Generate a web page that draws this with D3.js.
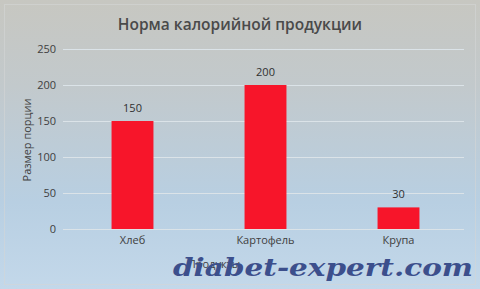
<!DOCTYPE html>
<html>
<head>
<meta charset="utf-8">
<script src="https://cdn.jsdelivr.net/npm/d3@7"></script>
<style>
  body { margin: 0; }
  svg { display: block; font-family: "Open Sans", "DejaVu Sans", sans-serif; }
</style>
</head>
<body>
<svg id="chart"></svg>
<script>
const categories = ["Хлеб", "Картофель", "Крупа"];
const values = [150, 200, 30];
const yTicks = [0, 50, 100, 150, 200, 250];
const title = "Норма калорийной продукции";
const xTitle = "Продукты";
const yTitle = "Размер порции";
const watermark = "diabet-expert.com";

const width = 480, height = 289;
const margin = { top: 49, right: 15, bottom: 60, left: 66 };

const svg = d3.select("#chart").attr("width", width).attr("height", height);

// background gradient, grey on top to light blue below
const defs = svg.append("defs");
const grad = defs.append("linearGradient")
  .attr("id", "bg").attr("x1", 0).attr("y1", 0).attr("x2", 0).attr("y2", 1);
grad.append("stop").attr("offset", "0%").attr("stop-color", "#c7c7c1");
grad.append("stop").attr("offset", "30%").attr("stop-color", "#c2c9cc");
grad.append("stop").attr("offset", "70%").attr("stop-color", "#b8cfe2");
grad.append("stop").attr("offset", "100%").attr("stop-color", "#c3d8ea");

svg.append("rect").attr("width", width).attr("height", height).attr("fill", "url(#bg)");
svg.append("rect").attr("x", 4.5).attr("y", 4.5)
  .attr("width", width - 9).attr("height", height - 9)
  .attr("fill", "none").attr("stroke", "#d3d6d6").attr("stroke-opacity", 0.6);

const x = d3.scaleBand()
  .domain(categories)
  .range([margin.left, width - margin.right])
  .paddingInner(0.685)
  .paddingOuter(0.3425);

const y = d3.scaleLinear()
  .domain([0, 250])
  .range([height - margin.bottom, margin.top]);

// gridlines
svg.append("g")
  .selectAll("line")
  .data(yTicks)
  .join("line")
  .attr("x1", 63).attr("x2", 464)
  .attr("y1", d => Math.round(y(d)) + 0.5)
  .attr("y2", d => Math.round(y(d)) + 0.5)
  .attr("stroke", "#dbe3e8")
  .attr("stroke-width", 1);

// y axis labels
const yAxis = svg.append("g")
  .attr("transform", "translate(56,0)")
  .call(d3.axisLeft(y).tickValues(yTicks).tickSize(0).tickPadding(0));
yAxis.select(".domain").remove();
yAxis.selectAll("text")
  .attr("font-size", 11).attr("fill", "#404040")
  .attr("font-family", "'Open Sans', sans-serif");

// x axis labels
const xAxis = svg.append("g")
  .attr("transform", "translate(0," + (y(0) + 7) + ")")
  .call(d3.axisBottom(x).tickSize(0).tickPadding(0));
xAxis.select(".domain").remove();
xAxis.selectAll("text")
  .attr("font-size", 11).attr("fill", "#404040")
  .attr("font-family", "'Open Sans', sans-serif");

// bars
svg.append("g")
  .selectAll("rect")
  .data(values)
  .join("rect")
  .attr("x", (d, i) => x(categories[i]))
  .attr("y", d => y(d))
  .attr("width", x.bandwidth())
  .attr("height", d => y(0) - y(d))
  .attr("fill", "#f7152a");

// value labels
svg.append("g")
  .selectAll("text")
  .data(values)
  .join("text")
  .attr("x", (d, i) => x(categories[i]) + x.bandwidth() / 2)
  .attr("y", d => y(d) - 9)
  .attr("text-anchor", "middle")
  .attr("font-size", 11)
  .attr("fill", "#303030")
  .text(d => d);

// title
svg.append("text")
  .attr("x", 240).attr("y", 30)
  .attr("text-anchor", "middle")
  .attr("font-size", 15.5)
  .attr("font-weight", 600)
  .attr("fill", "#4a4a4a")
  .text(title);

// axis titles
svg.append("text")
  .attr("transform", "translate(31," + 140 + ") rotate(-90)")
  .attr("text-anchor", "middle")
  .attr("font-size", 11)
  .attr("fill", "#404040")
  .text(yTitle);

svg.append("text")
  .attr("x", 214).attr("y", 268)
  .attr("text-anchor", "middle")
  .attr("font-size", 11)
  .attr("fill", "#404040")
  .text(xTitle);

// watermark
svg.append("text")
  .attr("x", 173).attr("y", 276)
  .attr("font-family", "'DejaVu Serif', serif")
  .attr("font-style", "italic")
  .attr("font-weight", "bold")
  .attr("font-size", 25)
  .attr("textLength", 300)
  .attr("lengthAdjust", "spacingAndGlyphs")
  .attr("fill", "#3c4f8c")
  .text(watermark);
</script>
</body>
</html>
